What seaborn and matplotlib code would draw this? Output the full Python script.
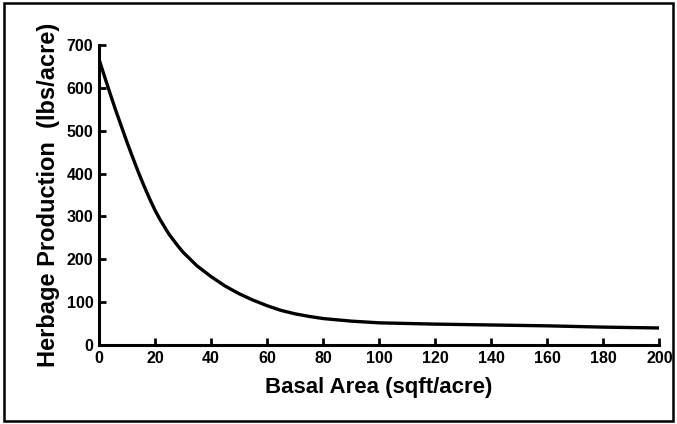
import numpy as np
import pandas as pd
import seaborn as sns
import matplotlib.pyplot as plt
from matplotlib.patches import Rectangle

# values
basal_area = [0, 2, 4, 6, 8, 10, 12, 14, 16, 18, 20, 22, 25, 28, 30, 35, 40, 45, 50,
              55, 60, 65, 70, 75, 80, 90, 100, 120, 140, 160, 180, 200]
herbage = [668, 627, 587, 548, 511, 474, 439, 405, 373, 343, 315, 291, 259, 233, 217,
           185, 160, 138, 120, 105, 92, 81, 73, 67, 62, 56, 52, 49, 47, 45, 42, 40]
x_ticks = list(range(0, 201, 20))
y_ticks = list(range(0, 701, 100))

df = pd.DataFrame({'basal': basal_area, 'herbage': herbage})

sns.set_style('ticks')
plt.rcParams['font.family'] = ['Liberation Sans', 'DejaVu Sans']
plt.rcParams['font.weight'] = 'bold'
plt.rcParams['text.color'] = 'black'
plt.rcParams['axes.labelcolor'] = 'black'

fig = plt.figure(figsize=(6.77, 4.24), dpi=100)
ax = fig.add_axes([0.146, 0.186, 0.828, 0.708])

sns.lineplot(data=df, x='basal', y='herbage', color='black', linewidth=2.4, ax=ax)

ax.set_xlim(0, 200)
ax.set_ylim(0, 700)
ax.set_xticks(x_ticks)
ax.set_yticks(y_ticks)
ax.tick_params(direction='in', length=5, width=2, colors='black', labelsize=11.5, pad=4)
for lab in ax.get_xticklabels() + ax.get_yticklabels():
    lab.set_fontweight('bold')
sns.despine(ax=ax)
for s in ['left', 'bottom']:
    ax.spines[s].set_linewidth(2.2)
    ax.spines[s].set_color('black')

ax.set_xlabel('Basal Area (sqft/acre)', fontsize=16, fontweight='bold', labelpad=8)
ax.set_ylabel('Herbage Production  (lbs/acre)', fontsize=17, fontweight='bold', labelpad=5)

# frame round the whole figure
fig.patches.append(Rectangle((0.006, 0.006), 0.988, 0.986, transform=fig.transFigure,
                             fill=False, edgecolor='black', linewidth=1.8))

fig.savefig('out.png', dpi=100)
